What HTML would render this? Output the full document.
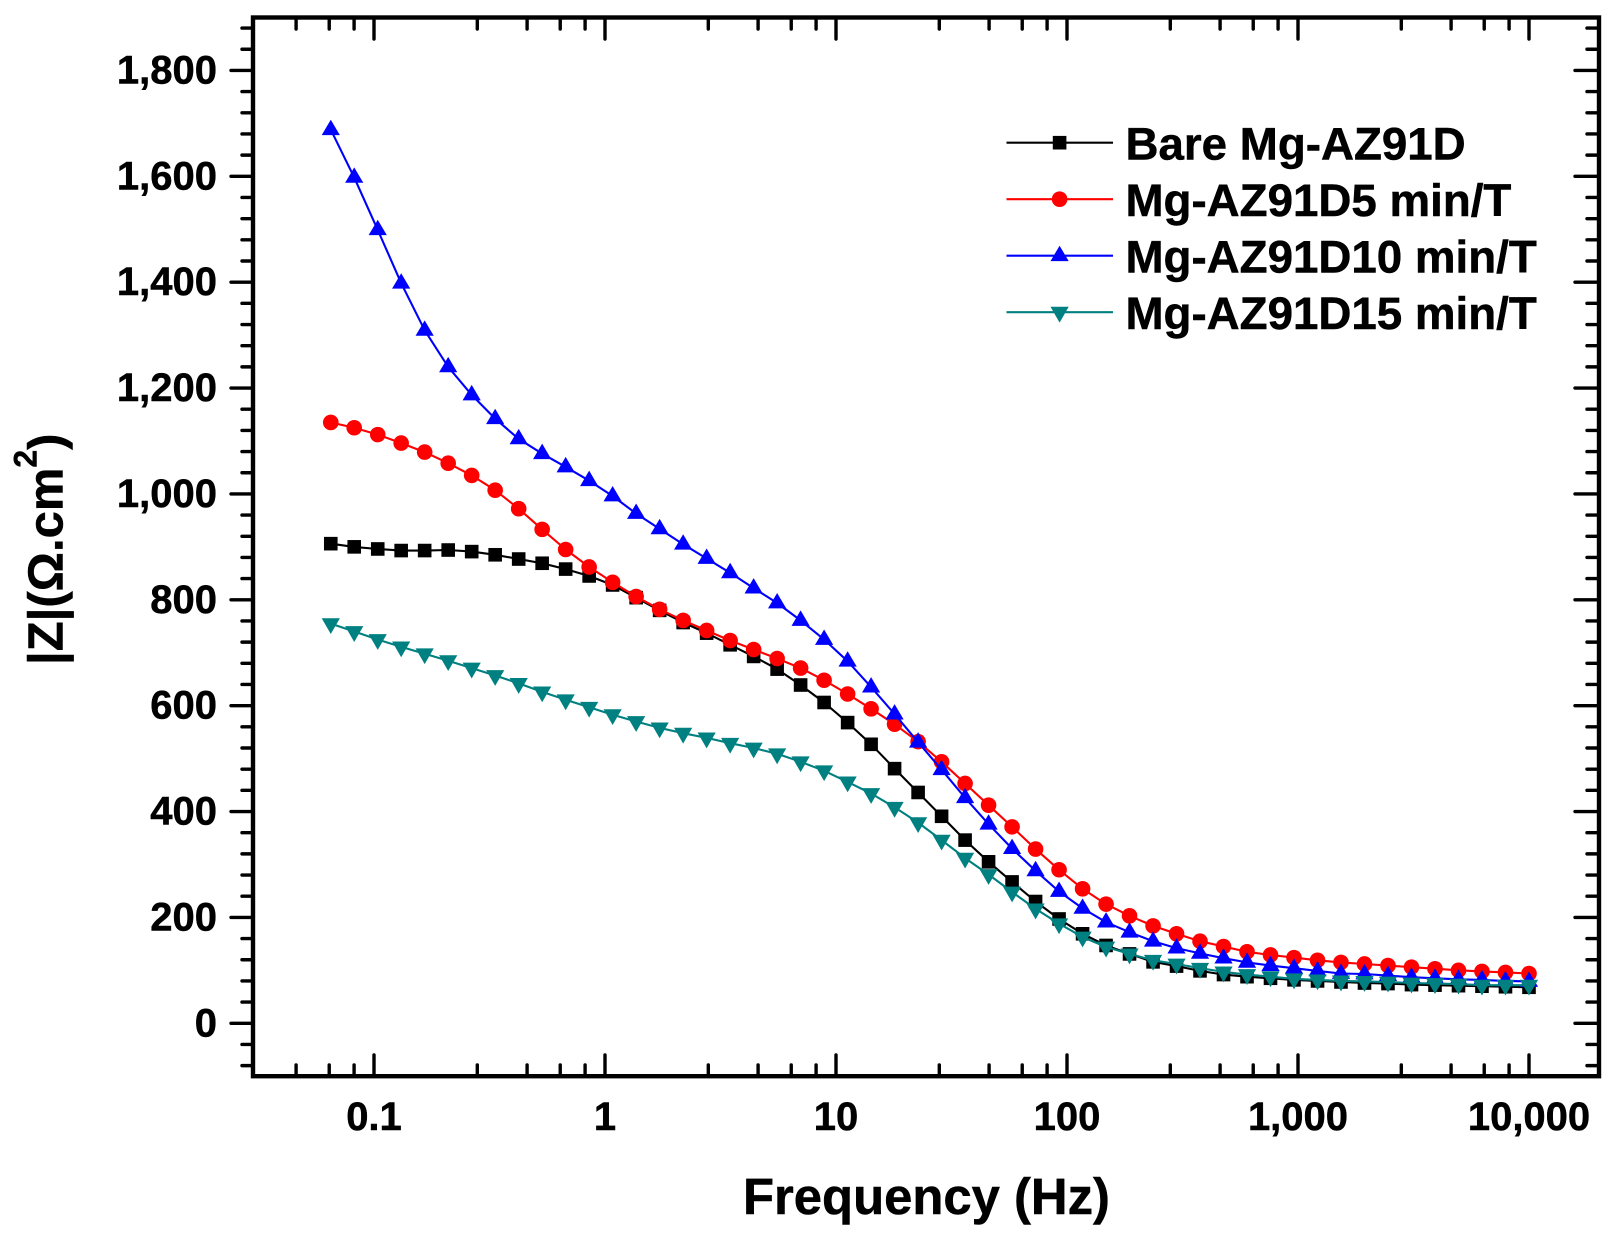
<!DOCTYPE html>
<html lang="en">
<head>
<meta charset="utf-8">
<title>Impedance modulus vs frequency</title>
<style>
html,body{margin:0;padding:0;background:#fff;width:1611px;height:1243px;overflow:hidden}
svg{display:block}
text{font-family:"Liberation Sans",Arial,sans-serif;font-weight:bold;fill:#000;stroke:#000;stroke-width:0.5px}
</style>
</head>
<body>
<svg id="chart" xmlns="http://www.w3.org/2000/svg" width="1611" height="1243" viewBox="0 0 1611 1243">
<rect x="0" y="0" width="1611" height="1243" fill="#fff"/>
<g id="series-layer"></g>
<g id="axis-layer"></g>
<rect x="253" y="17.5" width="1346" height="1058.7" fill="none" stroke="#000" stroke-width="4.4"/>
<text x="743" y="1214" font-size="50.8">Frequency (Hz)</text>
<text transform="translate(62.7,665) rotate(-90)" font-size="49">|Z|(Ω.cm<tspan font-size="32" dy="-26">2</tspan><tspan dy="26">)</tspan></text>
<g id="legend"></g>
</svg>
<script>
const frequencies = [0.0650,0.0821,0.1038,0.1311,0.1657,0.2095,0.2648,0.3346,0.4230,0.5345,0.6756,0.8539,1.079,1.364,1.724,2.179,2.754,3.481,4.400,5.561,7.028,8.882,11.23,14.19,17.93,22.67,28.65,36.21,45.76,57.84,73.11,92.40,116.8,147.6,186.5,235.8,298.0,376.6,476.0,601.6,760.3,961.0,1215,1535,1940,2452,3100,3918,4952,6258,7910,10000];
const bareValues = [906,900,896,893,893,894,891,885,877,869,858,845,828,804,780,757,737,715,693,669,639,606,568,527,481,436,391,346,305,267,230,197,169,147,131,116,108,99,92,88,85,82,80,78,76,75,73,72,71,70,69,68];
const min5Values = [1135,1125,1112,1096,1079,1058,1035,1007,972,933,895,862,833,806,782,761,742,723,706,689,671,648,622,594,565,532,494,453,412,371,329,290,254,225,203,184,169,155,145,135,129,124,119,115,112,109,106,103,100,98,96,94];
const min10Values = [1688,1598,1499,1398,1309,1240,1187,1142,1104,1076,1051,1025,996,963,934,905,878,851,822,794,761,725,684,635,584,531,479,426,376,330,288,249,217,191,172,155,142,132,123,115,109,104,99,94,93,90,87,85,83,82,80,79];
const min15Values = [755,740,725,711,698,685,671,657,642,626,611,597,583,570,558,548,539,529,520,509,494,477,456,434,408,379,346,312,281,248,216,188,163,144,131,119,112,104,97,92,88,84,82,80,79,78,76,75,74,72,72,72];
const yMajorTicks = [0,200,400,600,800,1000,1200,1400,1600,1800];
const yTickLabels = ["0","200","400","600","800","1,000","1,200","1,400","1,600","1,800"];
const yMinorTicks = [-80,-40,40,80,120,160,240,280,320,360,440,480,520,560,640,680,720,760,840,880,920,960,1040,1080,1120,1160,1240,1280,1320,1360,1440,1480,1520,1560,1640,1680,1720,1760,1840,1880];
const xMajorTicks = [0.1,1,10,100,1000,10000];
const xTickLabels = ["0.1","1","10","100","1,000","10,000"];
const xMinorTicks = [0.046,0.064,0.082,0.28,0.46,0.64,0.82,2.8,4.6,6.4,8.2,28,46,64,82,280,460,640,820,2800,4600,6400,8200,28000];
const seriesNames = ["Bare Mg-AZ91D","Mg-AZ91D5 min/T","Mg-AZ91D10 min/T","Mg-AZ91D15 min/T"];

const NS = "http://www.w3.org/2000/svg";
const plot = {left:253,right:1599,top:17.5,bottom:1076.2};
const yMin = -100, yMax = 1900;
function xScale(f){ return 605 + 231*Math.log10(f); }
function yScale(v){ return plot.bottom - (v-yMin)/(yMax-yMin)*(plot.bottom-plot.top); }
function make(tag, attrs){
  const el = document.createElementNS(NS, tag);
  for (const k in attrs) el.setAttribute(k, attrs[k]);
  return el;
}
function marker(kind, x, y, color){
  if (kind === "square") return make("rect",{x:x-6.8,y:y-6.8,width:13.6,height:13.6,fill:color});
  if (kind === "circle") return make("circle",{cx:x,cy:y,r:7.8,fill:color});
  if (kind === "up") return make("polygon",{points:`${x},${y-10} ${x+9.1},${y+5.4} ${x-9.1},${y+5.4}`,fill:color});
  return make("polygon",{points:`${x},${y+10.4} ${x+9.1},${y-5.4} ${x-9.1},${y-5.4}`,fill:color});
}
const axisLayer = document.getElementById("axis-layer");
const seriesLayer = document.getElementById("series-layer");
const legend = document.getElementById("legend");

function tick(x1,y1,x2,y2){
  const t = make("line",{x1,y1,x2,y2,stroke:"#000","stroke-width":3.4,"stroke-linecap":"round"});
  
  
  axisLayer.appendChild(t);
}
yMajorTicks.forEach(function(v,i){
  const y = yScale(v);
  tick(231,y,plot.left,y);
  tick(1575,y,plot.right,y);
  const label = make("text",{x:217,y:y+13,"text-anchor":"end","font-size":40});
  label.textContent = yTickLabels[i];
  
  
  axisLayer.appendChild(label);
});
yMinorTicks.forEach(function(v){
  const y = yScale(v);
  tick(242,y,plot.left,y);
  tick(1587,y,plot.right,y);
});
xMajorTicks.forEach(function(f,i){
  const x = xScale(f);
  tick(x,1055,x,plot.bottom);
  tick(x,plot.top,x,39);
  const label = make("text",{x:x,y:1130,"text-anchor":"middle","font-size":40});
  label.textContent = xTickLabels[i];
  
  
  axisLayer.appendChild(label);
});
xMinorTicks.forEach(function(f){
  const x = xScale(f);
  tick(x,1065,x,plot.bottom);
  tick(x,plot.top,x,29);
});

const seriesList = [
  {values:bareValues,color:"#000000",kind:"square"},
  {values:min5Values,color:"#ff0000",kind:"circle"},
  {values:min10Values,color:"#0000ff",kind:"up"},
  {values:min15Values,color:"#008080",kind:"down"}
];
seriesList.forEach(function(s,si){
  const g = make("g",{});
  
  
  const pts = s.values.map(function(v,i){ return xScale(frequencies[i]).toFixed(1)+","+yScale(v).toFixed(1); }).join(" ");
  const line = make("polyline",{points:pts,fill:"none",stroke:s.color,"stroke-width":2.1,"stroke-linejoin":"round"});
  
  
  g.appendChild(line);
  s.values.forEach(function(v,i){
    const m = marker(s.kind,xScale(frequencies[i]),yScale(v),s.color);
    
    
    g.appendChild(m);
  });
  seriesLayer.appendChild(g);

  const rowY = 142.7 + si*56.5;
  const key = make("line",{x1:1006.5,y1:rowY,x2:1113,y2:rowY,stroke:s.color,"stroke-width":2.1});
  
  
  legend.appendChild(key);
  const km = marker(s.kind,1059.6,rowY,s.color);
  
  
  legend.appendChild(km);
  const txt = make("text",{x:1125.5,y:rowY+16.6,"font-size":45.7});
  txt.textContent = seriesNames[si];
  
  
  legend.appendChild(txt);
});
</script>
</body>
</html>
